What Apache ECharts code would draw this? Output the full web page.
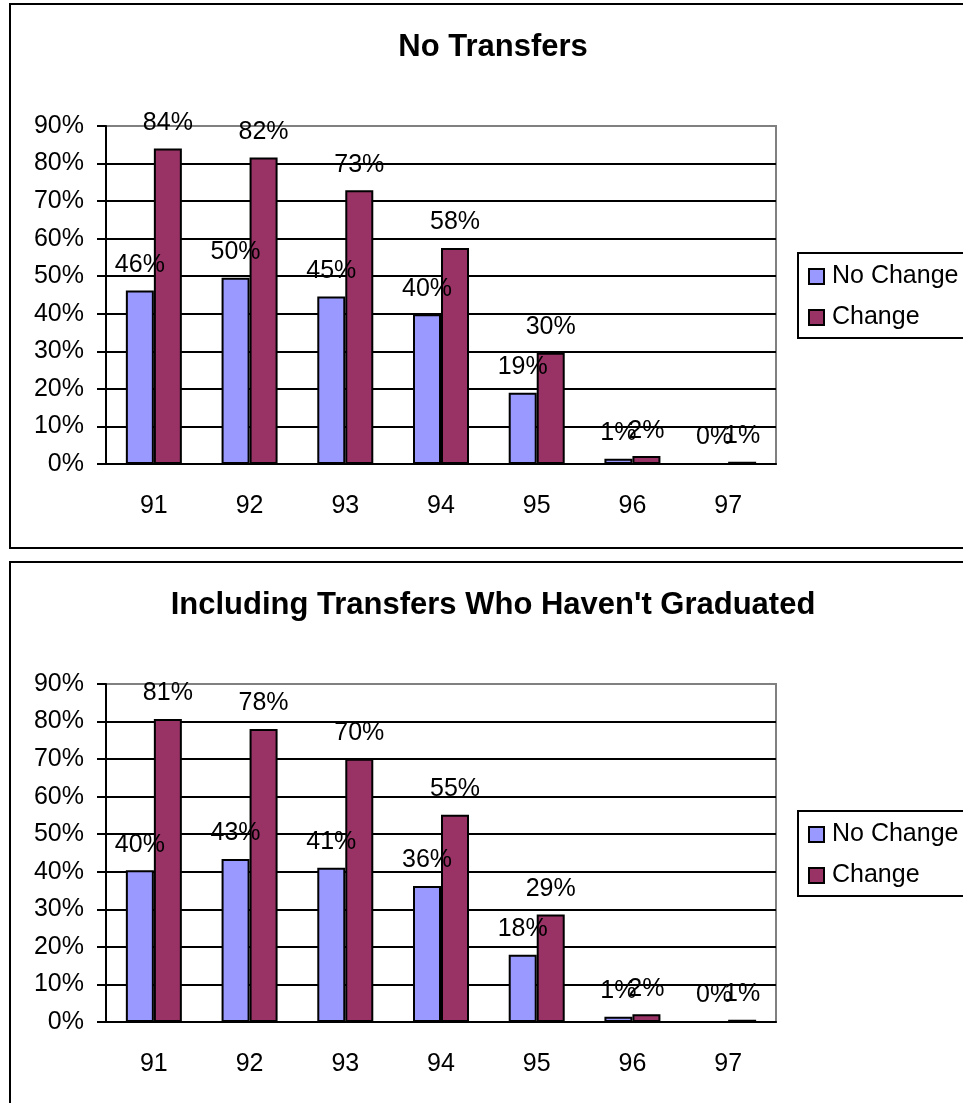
<!DOCTYPE html>
<html lang="en">
<head>
<meta charset="UTF-8">
<title>No Transfers / Including Transfers</title>
<script src="https://cdn.jsdelivr.net/npm/echarts@6/dist/echarts.min.js"></script>
<style>
    html, body { margin: 0; padding: 0; background: #fff; }
    #main { width: 963px; height: 1103px; }
</style>
</head>
<body>
<div id="main"></div>
<script>
    // categories (class years)
    var years = ['91', '92', '93', '94', '95', '96', '97'];
    // chart 1: No Transfers (percent)
    var noTransNoChange = [46.2, 49.6, 44.6, 39.9, 19.0, 1.4, 0];
    var noTransChange = [84.0, 81.6, 72.9, 57.5, 29.6, 2.1, 0.6];
    // chart 2: Including Transfers Who Haven't Graduated (percent)
    var inclNoChange = [40.4, 43.4, 41.1, 36.2, 17.9, 1.4, 0];
    var inclChange = [80.7, 78.0, 70.1, 55.2, 28.6, 2.05, 0.6];
    var seriesNames = ['No Change', 'Change'];
    var yMin = 0, yMax = 90, yStep = 10;

    var FONT = '"Liberation Sans", Arial, sans-serif';
    var BLUE = '#9999FF', RED = '#993366';

    var option = {
        animation: false,
        backgroundColor: '#fff',
        title: [], legend: [], grid: [], xAxis: [], yAxis: [], series: [],
        graphic: [
            { type: 'rect', shape: { x: 10, y: 4, width: 1000, height: 544 },
              style: { fill: 'none', stroke: '#000', lineWidth: 2 } },
            { type: 'rect', shape: { x: 10, y: 562, width: 1000, height: 600 },
              style: { fill: 'none', stroke: '#000', lineWidth: 2 } }
        ]
    };

    function barSeries(name, data, color, idx) {
        return {
            name: name,
            type: 'bar',
            xAxisIndex: idx,
            yAxisIndex: idx,
            data: data,
            barWidth: 28,
            barGap: '0%',
            itemStyle: { color: color, borderColor: '#000', borderWidth: 2 },
            label: {
                show: true,
                position: 'top',
                distance: 13,
                color: '#000',
                fontFamily: FONT,
                fontSize: 25,
                formatter: function (p) { return Math.round(p.value) + '%'; }
            }
        };
    }

    function addChart(idx, text, dy, noChange, change) {
        option.title.push({
            text: text,
            left: 493,
            textAlign: 'center',
            top: 32 + dy,
            padding: 0,
            textStyle: { fontFamily: FONT, fontSize: 31, fontWeight: 'bold', color: '#000' }
        });
        option.legend.push({
            orient: 'vertical',
            left: 798,
            top: 253 + dy,
            data: seriesNames,
            icon: 'rect',
            itemWidth: 15,
            itemHeight: 15,
            itemGap: 16,
            padding: [11, 20, 8, 10],
            borderColor: '#000',
            borderWidth: 2,
            selectedMode: false,
            textStyle: { fontFamily: FONT, fontSize: 25, color: '#000', padding: [0, 0, 0, 3] }
        });
        option.grid.push({
            left: 106, top: 126 + dy, width: 670, height: 338,
            show: true, borderColor: '#808080', borderWidth: 2, backgroundColor: 'transparent'
        });
        option.xAxis.push({
            type: 'category',
            gridIndex: idx,
            data: years,
            axisLine: { lineStyle: { color: '#000', width: 2 } },
            axisTick: { length: 8, lineStyle: { color: '#000', width: 2 } },
            axisLabel: { margin: 30, fontFamily: FONT, fontSize: 25, color: '#000' }
        });
        option.yAxis.push({
            type: 'value',
            gridIndex: idx,
            min: yMin, max: yMax, interval: yStep,
            axisLine: { show: true, lineStyle: { color: '#000', width: 2 } },
            axisTick: { show: true, length: 9, lineStyle: { color: '#000', width: 2 } },
            axisLabel: { margin: 22, formatter: '{value}%', fontFamily: FONT, fontSize: 25, color: '#000' },
            splitLine: { show: true, showMaxLine: false, lineStyle: { color: '#000', width: 2 } }
        });
        option.series.push(barSeries(seriesNames[0], noChange, BLUE, idx));
        option.series.push(barSeries(seriesNames[1], change, RED, idx));
    }

    addChart(0, 'No Transfers', 0, noTransNoChange, noTransChange);
    addChart(1, "Including Transfers Who Haven't Graduated", 558, inclNoChange, inclChange);

    var myChart = echarts.init(document.getElementById('main'));
    myChart.setOption(option);
</script>
</body>
</html>
